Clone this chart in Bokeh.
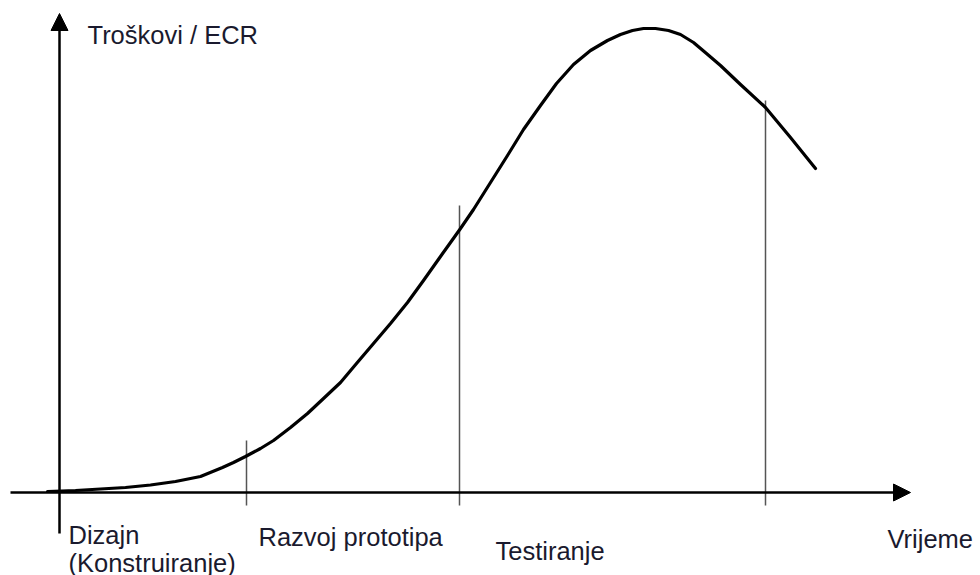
from bokeh.plotting import figure
from bokeh.models import Range1d, Arrow, NormalHead, Label
from bokeh.embed import file_html
from bokeh.resources import INLINE

# Data: time (t) vs cost of engineering change requests (c), arbitrary units
curve_time = [-12, 16, 41, 66, 91, 116, 141, 163, 174, 186, 201, 214, 231, 248,
              264, 281, 297, 314, 331, 348, 364, 381, 391, 401, 414, 431, 448,
              464, 481, 497, 514, 531, 548, 561, 573, 584, 596, 609, 621, 634,
              647, 661, 681, 706, 731, 756]
curve_cost = [1, 2, 3.5, 5, 7.5, 11, 16, 25, 30, 36, 44, 52, 65, 79,
              94, 110, 129, 149, 169, 190, 212, 236, 250, 264, 283, 310, 337,
              363, 387, 409, 428, 442, 452, 458, 462, 464, 464, 462, 458, 450,
              439, 427, 408, 385, 355, 324]

phase_time = [187, 400, 706]
phase_marker_top = [52, 287, 392]
phase_names = ["Dizajn", "(Konstruiranje)", "Razvoj prototipa", "Testiranje"]

y_title = "Troškovi / ECR"
x_title = "Vrijeme"

W, H = 980, 575
p = figure(width=W, height=H, output_backend="svg", toolbar_location=None,
           x_range=Range1d(-59, 921), y_range=Range1d(-83, 492),
           min_border=0, min_border_left=0, min_border_right=0,
           min_border_top=0, min_border_bottom=0)
p.axis.visible = False
p.grid.visible = False
p.outline_line_color = None
p.background_fill_color = "white"
p.border_fill_color = "white"

# phase markers
p.segment(x0=phase_time, y0=[-13] * len(phase_time), x1=phase_time, y1=phase_marker_top,
          line_color="#555555", line_width=1.5)

# axes with arrow heads
p.add_layout(Arrow(end=NormalHead(size=17, fill_color="black", line_color="black", line_width=1),
                   x_start=-49, y_start=0, x_end=851, y_end=0,
                   line_color="black", line_width=2.5))
p.add_layout(Arrow(end=NormalHead(size=17, fill_color="black", line_color="black", line_width=1),
                   x_start=0, y_start=-41, x_end=0, y_end=479,
                   line_color="black", line_width=2.5))

# cost curve
p.line(curve_time, curve_cost, line_color="black", line_width=3.2,
       line_join="round", line_cap="round")

font = "Liberation Sans"
fs = "25.5px"
col = "#1a1a2e"

def lab(x, y, text, align="left"):
    p.add_layout(Label(x=x, y=y, text=text, text_font=font, text_font_size=fs,
                       text_color=col, text_align=align, text_baseline="alphabetic"))

lab(28, 458, y_title)
lab(9, -42, phase_names[0])
lab(9, -70, phase_names[1])
lab(199, -44, phase_names[2])
lab(436, -58, phase_names[3])
lab(828, -46, x_title)

open("out.html", "w").write(file_html(p, INLINE))
